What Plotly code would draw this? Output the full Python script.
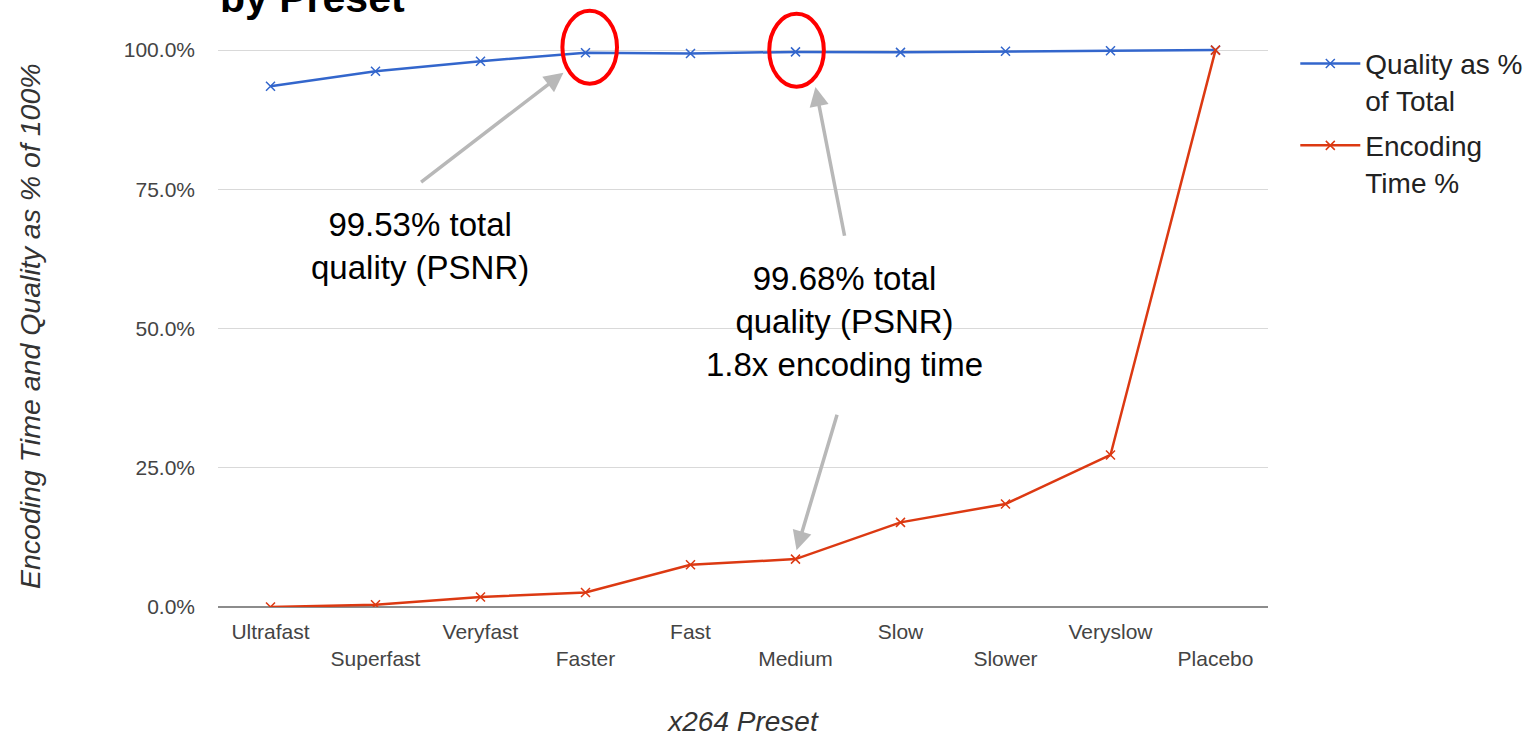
import plotly.graph_objects as go

presets = ["Ultrafast", "Superfast", "Veryfast", "Faster", "Fast",
           "Medium", "Slow", "Slower", "Veryslow", "Placebo"]
quality_pct = [93.5, 96.2, 98.0, 99.53, 99.4, 99.68, 99.6, 99.8, 99.9, 100.0]
encoding_pct = [0.0, 0.4, 1.8, 2.6, 7.6, 8.6, 15.2, 18.5, 27.3, 100.0]
y_ticks = [0, 25, 50, 75, 100]
y_tick_labels = ["0.0%", "25.0%", "50.0%", "75.0%", "100.0%"]

FONT = "Arial, Liberation Sans, sans-serif"
BLUE = "#3366cc"
RED = "#dc3912"
GRAY_ARROW = "#b8b8b8"

idx = list(range(len(presets)))
tick_text = [p if i % 2 == 0 else "<br>" + p for i, p in enumerate(presets)]

fig = go.Figure()
fig.add_trace(go.Scatter(
    x=idx, y=quality_pct, mode="lines+markers",
    name="Quality as %<br>of Total", legendgroup="quality",
    line=dict(color=BLUE, width=2.5),
    marker=dict(symbol="x-thin", size=9, line=dict(color=BLUE, width=1.5)),
))
fig.add_trace(go.Scatter(
    x=idx, y=encoding_pct, mode="lines+markers",
    name="Encoding<br>Time %", legendgroup="encoding",
    line=dict(color=RED, width=2.5),
    marker=dict(symbol="x-thin", size=9, line=dict(color=RED, width=1.5)),
))

# red highlight ellipses around Faster and Medium quality points
for name, dx, dy in [("Faster", 0.04, 1.0), ("Medium", 0.01, 0.3)]:
    i = presets.index(name)
    q = quality_pct[i]
    fig.add_shape(type="circle", xref="x", yref="y",
                  x0=i + dx - 0.26, x1=i + dx + 0.26,
                  y0=q + dy - 6.55, y1=q + dy + 6.55,
                  line=dict(color="#ff0000", width=4), layer="above")

i_f = presets.index("Faster")
i_m = presets.index("Medium")

annots = [
    dict(x=i_f - 0.21, y=quality_pct[i_f] - 3.6, ax=i_f - 1.58, ay=76.1,
         xref="x", yref="y", axref="x", ayref="y", text="", showarrow=True,
         arrowhead=2, arrowsize=1.1, arrowwidth=3.5, arrowcolor=GRAY_ARROW),
    dict(x=i_m + 0.19, y=quality_pct[i_m] - 6.3, ax=i_m + 0.47, ay=66.4,
         xref="x", yref="y", axref="x", ayref="y", text="", showarrow=True,
         arrowhead=2, arrowsize=1.1, arrowwidth=3.5, arrowcolor=GRAY_ARROW),
    dict(x=i_m + 0.01, y=encoding_pct[i_m] + 1.6, ax=i_m + 0.40, ay=34.8,
         xref="x", yref="y", axref="x", ayref="y", text="", showarrow=True,
         arrowhead=2, arrowsize=1.1, arrowwidth=3.5, arrowcolor=GRAY_ARROW),
    dict(x=i_f - 1.58, y=64.8, xref="x", yref="y", showarrow=False,
         text="99.53% total<br>quality (PSNR)",
         font=dict(family=FONT, size=33, color="#000000")),
    dict(x=i_m + 0.47, y=51.2, xref="x", yref="y", showarrow=False,
         text="99.68% total<br>quality (PSNR)<br>1.8x encoding time",
         font=dict(family=FONT, size=33, color="#000000")),
    # title, cut off by the top edge as in the original
    dict(x=0, y=0.962, xref="paper", yref="paper", xanchor="left",
         yanchor="bottom", showarrow=False, text="<b>by Preset</b>",
         font=dict(family=FONT, size=41, color="#000000")),
    # y axis title
    dict(x=-0.179, y=(607 - 326) / 607, xref="paper", yref="paper",
         xanchor="center", yanchor="middle", showarrow=False, textangle=-90,
         text="<i>Encoding Time and Quality as % of 100%</i>",
         font=dict(family=FONT, size=28.5, color="#333333")),
]

fig.update_layout(
    width=1531, height=737,
    margin=dict(l=218, r=263, t=0, b=130),
    paper_bgcolor="white", plot_bgcolor="white",
    font=dict(family=FONT, color="#444444"),
    showlegend=True,
    legend=dict(x=1.026, y=0.936, xanchor="left", yanchor="top",
                font=dict(family=FONT, size=28, color="#222222"),
                valign="top", itemwidth=60, tracegroupgap=6,
                bgcolor="rgba(0,0,0,0)"),
    annotations=annots,
    xaxis=dict(
        range=[-0.5, len(presets) - 0.5],
        tickmode="array", tickvals=idx, ticktext=tick_text,
        tickfont=dict(family=FONT, size=21, color="#444444"),
        showgrid=False, zeroline=False, automargin=False,
        showline=False, ticks="", ticklabelstandoff=10,
        title=dict(text="<i>x264 Preset</i>",
                   font=dict(family=FONT, size=28, color="#333333"),
                   standoff=52),
    ),
    yaxis=dict(
        range=[0, 109], automargin=False,
        tickmode="array", tickvals=y_ticks, ticktext=y_tick_labels,
        tickfont=dict(family=FONT, size=21, color="#444444"),
        showgrid=True, gridcolor="#d9d9d9", gridwidth=1,
        zeroline=True, zerolinecolor="#8c8c8c", zerolinewidth=2,
        ticks="", ticklabelstandoff=22,
    ),
)

fig.write_html("out.html")
